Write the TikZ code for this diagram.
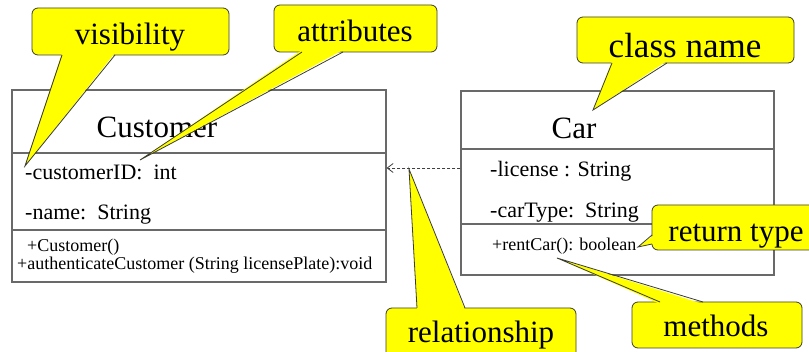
\documentclass[tikz,border=0pt]{standalone}
\usepackage{fontspec}
\setmainfont{Liberation Serif}
\usetikzlibrary{arrows.meta,calc}
\definecolor{calloutfill}{RGB}{255,255,0}
\definecolor{calloutline}{RGB}{60,60,50}
\definecolor{boxline}{RGB}{105,105,105}
\tikzset{
  classbox/.style={draw=boxline, line width=1.1pt, inner sep=0pt, fill=white},
  sep/.style={draw=boxline, line width=1.1pt},
  cname/.style={font=\fontsize{31}{31}\selectfont, anchor=base, inner sep=0pt},
  member/.style={font=\fontsize{22}{22}\selectfont, anchor=base west, inner sep=0pt},
  oper/.style={font=\fontsize{18}{18}\selectfont, anchor=base west, inner sep=0pt},
  bubble/.style={draw=calloutline, fill=calloutfill, line width=0.8pt, rounded corners=6pt, inner sep=0pt},
  bubbletext/.style={font=\fontsize{31}{31}\selectfont, anchor=base, inner sep=0pt},
  dep/.style={draw=black!75, line width=0.8pt, dash pattern=on 3pt off 2pt,
    -{Straight Barb[length=6pt,width=9pt]}},
}
% pointer of a callout: base #1 -- tip #2 -- base #3, the fill reaching #4 into the box
\newcommand\bubbleptr[4]{%
  \fill[calloutfill] ($(#1)+#4$) -- (#2) -- ($(#3)+#4$) -- cycle;
  \draw[calloutline, line width=0.8pt, line join=miter] (#1) -- (#2) -- (#3);}
\begin{document}
\begin{tikzpicture}[x=1pt,y=-1pt]
\useasboundingbox (0,0) rectangle (809,352);
\clip (0,0) rectangle (809,352);

% class Customer
\node[classbox, minimum width=374pt, minimum height=192pt] (cust) at (199,186) {};
\draw[sep] (12,153) -- (386,153);
\draw[sep] (12,230) -- (386,230);
\node[cname] (custname) at (157,138) {Customer};
\node[member] (custid) at (25,180) {-customerID:~~int};
\node[member] (custnm) at (25,220) {-name:~~String};
\node[oper] (custctor) at (27,252) {+Customer()};
\node[oper] (custauth) at (17,270) {+authenticateCustomer (String licensePlate):void};

% class Car
\node[classbox, minimum width=313pt, minimum height=184pt] (car) at (617.5,183) {};
\draw[sep] (461,149) -- (774,149);
\draw[sep] (461,224) -- (774,224);
\node[cname] (carname) at (574,139) {Car};
\node[member] (carlic) at (490,177) {-license : String};
\node[member] (cartype) at (490,218) {-carType:~~String};
\node[oper] (carrent) at (492,251) {+rentCar(): boolean};

% dependency Car -> Customer
\coordinate (depy) at (0,168);
\draw[dep] (car.west |- depy) -- (cust.east |- depy);

% callout: visibility
\node[bubble, minimum width=197pt, minimum height=47pt] (visB) at (130.5,31.5) {};
\coordinate (visA) at (62,55);
\coordinate (visT) at (25,166);
\coordinate (visC) at (115,55);
\bubbleptr{visA}{visT}{visC}{(0,-2)}
\node[bubbletext] (visL) at (130,45) {visibility};

% callout: attributes
\node[bubble, minimum width=163pt, minimum height=47pt] (attB) at (355.5,28.5) {};
\coordinate (attA) at (302,52);
\coordinate (attT) at (140,160);
\coordinate (attC) at (343,52);
\bubbleptr{attA}{attT}{attC}{(0,-2)}
\node[bubbletext] (attL) at (355,42) {attributes};

% callout: class name
\node[bubble, minimum width=217pt, minimum height=46pt] (cnB) at (685.5,40) {};
\coordinate (cnA) at (612,63);
\coordinate (cnT) at (593,110);
\coordinate (cnC) at (667,63);
\bubbleptr{cnA}{cnT}{cnC}{(0,-2)}
\node[bubbletext, font=\fontsize{35}{35}\selectfont] (cnL) at (685,58) {class name};

% callout: relationship
\node[bubble, minimum width=190pt, minimum height=54pt] (relB) at (481,335) {};
\coordinate (relA) at (417,308);
\coordinate (relT) at (409,169);
\coordinate (relC) at (465,308);
\bubbleptr{relA}{relT}{relC}{(0,2)}
\node[bubbletext] (relL) at (481,343) {relationship};

% callout: return type
\node[bubble, minimum width=170pt, minimum height=45pt] (retB) at (737,227.5) {};
\coordinate (retA) at (652,235);
\coordinate (retT) at (638,247);
\coordinate (retC) at (652,244);
\bubbleptr{retA}{retT}{retC}{(2,0)}
\node[bubbletext] (retL) at (736,242) {return type};

% callout: methods
\node[bubble, minimum width=170pt, minimum height=46pt] (metB) at (717,325) {};
\coordinate (metA) at (660,302);
\coordinate (metT) at (557,258);
\coordinate (metC) at (703,302);
\bubbleptr{metA}{metT}{metC}{(0,2)}
\node[bubbletext] (metL) at (716,337) {methods};
\end{tikzpicture}
\end{document}
